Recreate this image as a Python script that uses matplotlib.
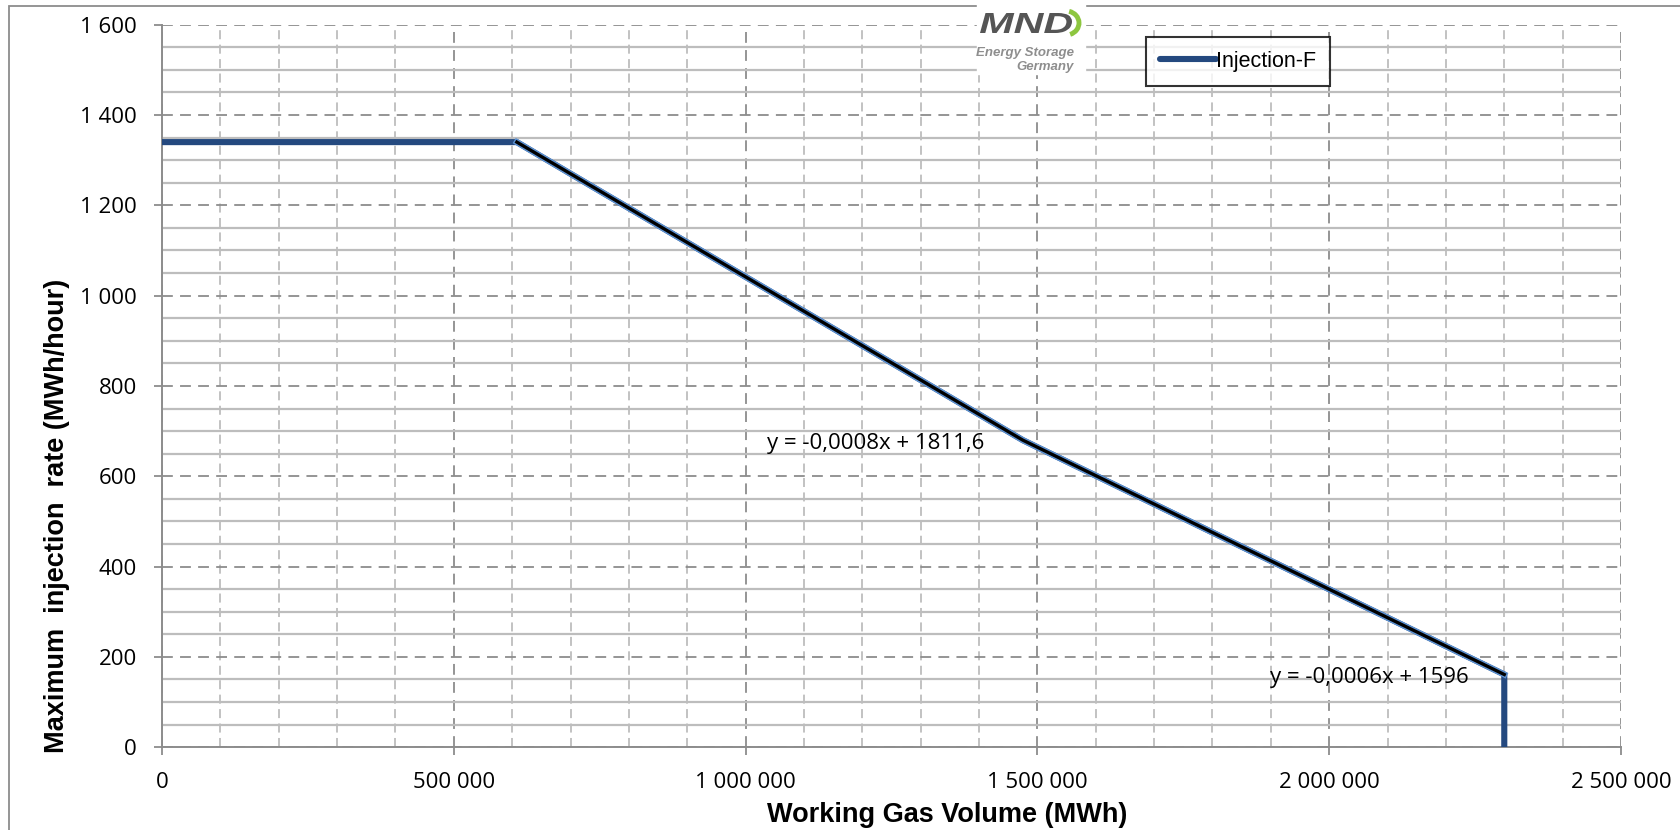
import matplotlib.pyplot as plt
from matplotlib.ticker import MultipleLocator, FuncFormatter
from matplotlib.patches import Arc, PathPatch
from matplotlib.textpath import TextPath
from matplotlib.font_manager import FontProperties
from matplotlib.transforms import Affine2D

# data
volume = [0, 608000, 1475000, 2300000, 2300000]
rate = [1340, 1340, 680, 161, 0]
slope_idx = [1, 2, 3]  # points covered by the two trendlines
eq1 = "y = -0,0008x + 1811,6"
eq2 = "y = -0,0006x + 1596"
series_name = "Injection-F"

W, H = 1681, 830
dark_blue = "#24497F"
light_blue = "#5E93D3"
grid_major = "#8C8C8C"
grid_minor = "#BDBDBD"
tick_font = "Open Sans"

fig = plt.figure(figsize=(W / 100, H / 100), dpi=100)
ax = fig.add_axes([162 / W, 1 - 747.2 / H, 1459 / W, 722.5 / H])

ax.plot(volume, rate, color=dark_blue, lw=4.4, solid_joinstyle="miter", label=series_name, zorder=3)
sx = [volume[i] for i in slope_idx]
sy = [rate[i] for i in slope_idx]
ax.plot(sx, sy, color=light_blue, lw=4.4, zorder=4)
ax.plot(sx, sy, color="black", lw=2.4, zorder=5)

ax.set_xlim(0, 2500000)
ax.set_ylim(0, 1600)
ax.xaxis.set_major_locator(MultipleLocator(500000))
ax.xaxis.set_minor_locator(MultipleLocator(100000))
ax.yaxis.set_major_locator(MultipleLocator(200))
ax.yaxis.set_minor_locator(MultipleLocator(50))
fmt = FuncFormatter(lambda v, p: f"{v:,.0f}".replace(",", " "))
ax.xaxis.set_major_formatter(fmt)
ax.yaxis.set_major_formatter(fmt)

ax.grid(True, which="major", color=grid_major, lw=1.3, ls=(0, (6, 4)))
ax.grid(True, which="minor", axis="y", color=grid_minor, lw=1.6, ls="-")
ax.grid(True, which="minor", axis="x", color=grid_minor, lw=1.3, ls=(0, (5, 3)))
ax.set_axisbelow(True)

for s in ["top", "right"]:
    ax.spines[s].set_visible(False)
for s in ["left", "bottom"]:
    ax.spines[s].set_color(grid_major)
    ax.spines[s].set_linewidth(1.4)

ax.tick_params(which="major", direction="out", length=6, width=1.3, color=grid_major,
               labelsize=16)
ax.tick_params(axis="y", which="major", pad=12)
ax.tick_params(axis="x", which="major", pad=12)
ax.tick_params(which="minor", length=0)
for lab in ax.get_xticklabels() + ax.get_yticklabels():
    lab.set_fontfamily(tick_font)

ax.set_xlabel("Working Gas Volume (MWh)", fontsize=19.5, fontweight="bold",
              family="Liberation Sans")
ax.set_ylabel("Maximum  injection  rate (MWh/hour)", fontsize=19.5, fontweight="bold",
              family="Liberation Sans")
ax.xaxis.set_label_coords(0.538, -0.076)
ax.yaxis.set_label_coords(-0.063, 0.32)

ax.text(767, H - 443, eq1, transform=None, fontsize=16, family=tick_font, va="center")
ax.text(1270, H - 677, eq2, transform=None, fontsize=16, family=tick_font, va="center")

# legend
leg = ax.legend(loc="upper left", bbox_to_anchor=(1146 / W, 1 - 37 / H),
                bbox_transform=fig.transFigure, borderaxespad=0, frameon=True,
                prop={"family": "Liberation Sans", "size": 15.5}, handlelength=2.6,
                handletextpad=0.0, borderpad=0.65, fancybox=False)
leg.get_frame().set_edgecolor("black")
leg.get_frame().set_linewidth(1.5)
leg.set_zorder(10)
for h in leg.get_lines():
    h.set_linewidth(4.4)
    h.set_solid_capstyle("round")

# logo
fig.patches.append(plt.Rectangle((977 / W, 1 - 74 / H), 108 / W, 72 / H,
                                 transform=fig.transFigure, color="white", zorder=6))
tp = TextPath((0, 0), "MND", size=20,
              prop=FontProperties(family="Liberation Sans", weight="bold", style="italic"))
bb = tp.get_extents()
logo_tr = Affine2D().translate(-bb.x0, -bb.y0).scale(92 / bb.width, 20 / bb.height).translate(980, H - 33)
fig.patches.append(PathPatch(logo_tr.transform_path(tp), transform=None, color="#555555",
                             lw=0, zorder=7))
fig.text(1074 / W, 1 - 53 / H, "Energy Storage", fontsize=9.5, fontweight="bold",
         style="italic", color="#8E8E8E", family="Liberation Sans", ha="right", va="center", zorder=7)
fig.text(1074 / W, 1 - 67 / H, "Germany", fontsize=9.5, fontweight="bold",
         style="italic", color="#8E8E8E", family="Liberation Sans", ha="right", va="center", zorder=7)
fig.patches.append(Arc((1066, H - 23), 26, 24, theta1=-70, theta2=75, transform=None,
                       color="#8DC63F", lw=3.5, zorder=8))

# outer border
fig.patches.append(plt.Rectangle((9.5 / W, -0.1), 1.2, 1.1 - 6 / H,
                                 transform=fig.transFigure, fill=False, edgecolor="#8C8C8C",
                                 lw=1.3, zorder=0))

fig.savefig("out.png", dpi=100)
